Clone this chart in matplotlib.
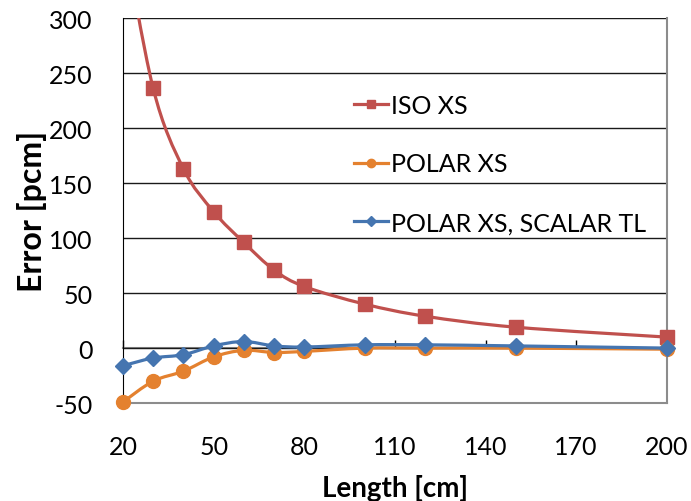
"""
Error vs. length for ISO / POLAR cross sections (Excel-style smoothed lines)
"""

import numpy as np
import matplotlib.pyplot as plt
from matplotlib.path import Path
from matplotlib.patches import PathPatch, Rectangle
from matplotlib.lines import Line2D

length = [20, 30, 40, 50, 60, 70, 80, 100, 120, 150, 200]
iso_xs = [380, 236, 163, 124, 96, 71, 56, 40, 29, 19, 10]
polar_xs = [-49, -30, -21, -8, -2, -4, -3, 0, 0, 0, -1]
polar_scalar_tl = [-16, -9, -6, 2, 6, 2, 1, 3, 3, 2, 0]

series_names = ["ISO XS", "POLAR XS", "POLAR XS, SCALAR TL"]
x_ticks = [20, 50, 80, 110, 140, 170, 200]
y_ticks = [-50, 0, 50, 100, 150, 200, 250, 300]

plt.rcParams['font.family'] = ['Lato', 'DejaVu Sans']
plt.rcParams['axes.unicode_minus'] = False


def smooth_path(x, y):
    # Excel-like smoothing: cubic bezier through the data points
    pts = np.column_stack([np.asarray(x, float), np.asarray(y, float)])
    n = len(pts)
    verts = [pts[0]]
    codes = [Path.MOVETO]
    for i in range(n - 1):
        p0 = pts[max(i - 1, 0)]
        p1 = pts[i]
        p2 = pts[i + 1]
        p3 = pts[min(i + 2, n - 1)]
        verts += [p1 + (p2 - p0) / 6, p2 - (p3 - p1) / 6, p2]
        codes += [Path.CURVE4] * 3
    return Path(verts, codes)


def draw_series(ax, x, y, color, marker, ms):
    patch = PathPatch(smooth_path(x, y), fill=False, edgecolor=color,
                      lw=2.3, transform=ax.transData, zorder=3)
    ax.add_patch(patch)
    # markers may overhang the left/right/bottom border, but not the top
    clip = Rectangle((-0.05, -0.08), 1.1, 1.08, transform=ax.transAxes,
                     visible=False)
    ax.add_patch(clip)
    pts, = ax.plot(x, y, linestyle='none', marker=marker, ms=ms, color=color,
                   zorder=4)
    pts.set_clip_path(clip)
    return Line2D([], [], color=color, lw=2.3, marker=marker, ms=ms * 0.6)


def main():
    fig = plt.figure(figsize=(6.91, 5.02), dpi=100)
    ax = fig.add_axes([0.178, 0.195, 0.787, 0.767])

    colors = ['#C0504D', '#E4812F', '#4575B0']
    h1 = draw_series(ax, length, iso_xs, colors[0], 's', 9.5)
    h2 = draw_series(ax, length, polar_xs, colors[1], 'o', 10)
    h3 = draw_series(ax, length, polar_scalar_tl, colors[2], 'D', 8)

    ax.set_xlim(20, 200)
    ax.set_ylim(-50, 300)
    ax.set_xticks(x_ticks)
    ax.set_yticks(y_ticks)
    ax.tick_params(axis='both', length=0, labelsize=18)
    ax.tick_params(axis='x', pad=23)
    ax.tick_params(axis='y', pad=22)

    ax.yaxis.grid(True, color='#1a1a1a', lw=1)
    ax.set_axisbelow(True)
    ax.spines['top'].set_visible(False)
    ax.spines['left'].set_color('black')
    ax.spines['right'].set_color('#8C8C8C')
    ax.spines['right'].set_linewidth(1.5)
    ax.spines['bottom'].set_color('#8C8C8C')
    ax.spines['bottom'].set_linewidth(1.5)

    # horizontal axis crossing at zero: gray line with inward tick marks
    sec = ax.secondary_xaxis(50 / 350)
    sec.set_xticks(x_ticks)
    sec.tick_params(direction='in', length=6, width=1, color='black',
                    labelbottom=False, labeltop=False)
    sec.spines['bottom'].set_color('#8C8C8C')
    sec.spines['bottom'].set_linewidth(1.5)
    sec.spines['top'].set_visible(False)

    ax.set_xlabel("Length [cm]", fontsize=20, fontweight='bold', labelpad=11.5)
    ax.set_ylabel("Error [pcm]", fontsize=23, fontweight='bold', labelpad=1)

    ax.legend([h1, h2, h3], series_names, loc='upper left',
              bbox_to_anchor=(0.384, 0.862), frameon=False, fontsize=18,
              handlelength=1.35, handletextpad=0.12, labelspacing=1.43)

    fig.savefig("out.png", dpi=100)


if __name__ == "__main__":
    main()
